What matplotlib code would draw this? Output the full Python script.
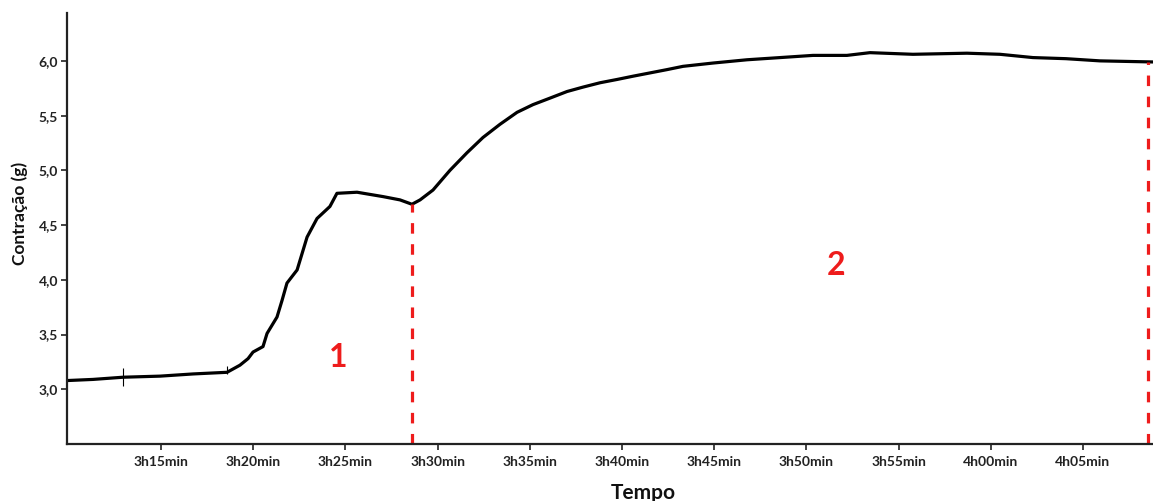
import matplotlib
matplotlib.use("Agg")
import matplotlib.pyplot as plt

# tempo em minutos após 3h00 e contração em gramas
tempo_min = [9.96, 11.31, 12.94, 14.95, 16.74, 18.58, 19.28, 19.72, 19.99, 20.53,
             20.75, 21.29, 21.56, 21.83, 22.38, 22.92, 23.46, 24.16, 24.54, 25.63,
             27.04, 27.96, 28.61, 29.05, 29.75, 30.67, 31.59, 32.46, 33.38, 34.31,
             35.17, 36.10, 37.02, 37.88, 38.81, 39.73, 40.60, 41.52, 42.44, 43.31,
             44.93, 46.78, 48.57, 50.36, 52.20, 53.45, 55.78, 58.71, 60.50, 62.29,
             64.08, 65.92, 68.80]
contracao = [3.08, 3.09, 3.11, 3.12, 3.14, 3.155, 3.22, 3.28, 3.34, 3.39,
             3.51, 3.66, 3.81, 3.97, 4.09, 4.39, 4.56, 4.67, 4.79, 4.80,
             4.76, 4.73, 4.69, 4.73, 4.82, 5.00, 5.16, 5.30, 5.42, 5.53,
             5.60, 5.66, 5.72, 5.76, 5.80, 5.83, 5.86, 5.89, 5.92, 5.95,
             5.98, 6.01, 6.03, 6.05, 6.05, 6.075, 6.06, 6.07, 6.06, 6.03,
             6.02, 6.00, 5.99]

# artefatos curtos no registro (tempo, mínimo, máximo)
artefato_t = [12.94, 18.60]
artefato_min = [3.03, 3.14]
artefato_max = [3.19, 3.21]

# fim de cada fase (linhas vermelhas)
fase_fim = [28.61, 68.55]
fase_valor = [4.69, 5.99]
fase_nome = ["1", "2"]
fase_pos = [(24.6, 3.29), (51.6, 4.13)]

x_ticks = [15, 20, 25, 30, 35, 40, 45, 50, 55, 60, 65]
x_labels = ["3h15min", "3h20min", "3h25min", "3h30min", "3h35min", "3h40min",
            "3h45min", "3h50min", "3h55min", "4h00min", "4h05min"]
y_ticks = [3.0, 3.5, 4.0, 4.5, 5.0, 5.5, 6.0]
y_labels = ["3,0", "3,5", "4,0", "4,5", "5,0", "5,5", "6,0"]

plt.rcParams['font.family'] = ['Lato', 'DejaVu Sans']

fig = plt.figure(figsize=(11.53, 5.01), dpi=100)
ax = fig.add_axes([67/1153, 1 - 444/501, 1 - 67/1153, (444 - 12.7)/501])

ax.plot(tempo_min, contracao, color='black', lw=2.3, solid_joinstyle='round')
ax.vlines(artefato_t, artefato_min, artefato_max, color='black', lw=0.8)

for xf, yf in zip(fase_fim, fase_valor):
    ax.plot([xf, xf], [2.5, yf], color='#ee1c1c', lw=2.3, linestyle=(0, (3.3, 3.3)))

for nome, (xt, yt) in zip(fase_nome, fase_pos):
    ax.text(xt, yt, nome, color='#ee1c1c', fontsize=23, fontweight='bold',
            ha='center', va='center')

ax.set_xlim(9.9, 68.8)
ax.set_ylim(2.5, 6.44)
ax.set_xticks(x_ticks)
ax.set_xticklabels(x_labels)
ax.set_yticks(y_ticks)
ax.set_yticklabels(y_labels)

for s in ['top', 'right']:
    ax.spines[s].set_visible(False)
for s in ['left', 'bottom']:
    ax.spines[s].set_linewidth(1.6)
    ax.spines[s].set_color('#222222')

ax.tick_params(axis='both', direction='out', length=4.5, width=1.2, colors='#222222',
               labelsize=10, pad=2)
for lab in ax.get_xticklabels() + ax.get_yticklabels():
    lab.set_fontweight('bold')
ax.tick_params(axis='x', pad=4)

fig.text(20/1153, 1 - 213/501, "Contração (g)", rotation=90, fontsize=12.5,
         fontweight='bold', ha='center', va='center', color='#111111')
fig.text(643/1153, 1 - 483/501, "Tempo", fontsize=15, fontweight='bold',
         ha='center', va='top', color='#111111')

fig.savefig("out.png", dpi=100)
